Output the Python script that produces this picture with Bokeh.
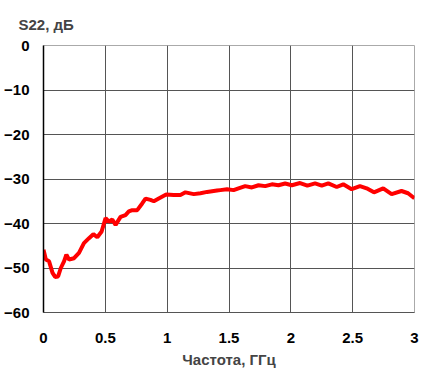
from bokeh.plotting import figure
from bokeh.models import FixedTicker, Range1d
from bokeh.embed import file_html
from bokeh.resources import INLINE

freq = [0.000, 0.019, 0.045, 0.073, 0.094, 0.118, 0.140, 0.166, 0.185, 0.206,
        0.247, 0.287, 0.327, 0.368, 0.403, 0.435, 0.470, 0.502, 0.529, 0.556,
        0.583, 0.623, 0.663, 0.690, 0.718, 0.758, 0.798, 0.825, 0.865, 0.892,
        0.932, 0.992, 1.053, 1.107, 1.148, 1.215, 1.269, 1.323, 1.403, 1.430,
        1.484, 1.537, 1.577, 1.631, 1.685, 1.739, 1.793, 1.847, 1.900, 1.954,
        2.008, 2.075, 2.134, 2.196, 2.250, 2.303, 2.371, 2.424, 2.492, 2.559,
        2.613, 2.672, 2.747, 2.815, 2.895, 2.948, 2.989, 3.000]
s22 = [-45.9, -48.1, -48.5, -51.1, -52.0, -51.9, -50.0, -48.5, -47.0, -48.1,
       -47.8, -46.6, -44.4, -43.3, -42.4, -43.1, -41.8, -38.8, -39.6, -39.1,
       -40.3, -38.5, -38.1, -37.3, -37.0, -37.0, -35.5, -34.4, -34.7, -35.0,
       -34.4, -33.5, -33.6, -33.6, -33.0, -33.4, -33.2, -32.9, -32.6, -32.5,
       -32.3, -32.5, -32.1, -31.6, -31.9, -31.4, -31.6, -31.2, -31.4, -31.0,
       -31.4, -30.9, -31.5, -31.0, -31.5, -31.0, -31.8, -31.2, -32.3, -31.6,
       -32.1, -33.0, -32.1, -33.4, -32.7, -33.2, -34.1, -34.3]

x_ticks = [0, 0.5, 1, 1.5, 2, 2.5, 3]
x_labels = {0: "0", 0.5: "0.5", 1: "1", 1.5: "1.5", 2: "2", 2.5: "2.5", 3: "3"}
y_ticks = [-60, -50, -40, -30, -20, -10, 0]

FONT = "Liberation Sans"

p = figure(width=439, height=372, output_backend="svg", toolbar_location=None,
           x_range=Range1d(0, 3), y_range=Range1d(-60, 0),
           min_border_left=43, min_border_right=25, min_border_top=43,
           min_border_bottom=60, title="S22, дБ")

p.title.text_font = FONT
p.title.text_font_size = "15px"
p.title.text_font_style = "bold"
p.title.align = "left"
p.title.offset = -25
p.title.standoff = 26

p.line(freq, s22, line_color="#ff0000", line_width=4)

p.outline_line_color = "#aaaaaa"
p.outline_line_width = 1
p.background_fill_color = "white"
p.border_fill_color = "white"

p.xaxis.ticker = FixedTicker(ticks=x_ticks)
p.xaxis.major_label_overrides = x_labels
p.yaxis.ticker = FixedTicker(ticks=y_ticks)

for ax in (p.xaxis, p.yaxis):
    ax.major_tick_out = 0
    ax.major_tick_in = 0
    ax.minor_tick_out = 0
    ax.minor_tick_in = 0
    ax.major_label_text_font = FONT
    ax.major_label_text_font_size = "15px"
    ax.major_label_text_font_style = "bold"
    ax.major_label_text_color = "black"

p.yaxis.axis_line_color = "black"
p.yaxis.axis_line_width = 1.5
p.yaxis.major_label_standoff = 14
p.xaxis.axis_line_color = "#555555"
p.xaxis.major_label_standoff = 20

p.xaxis.axis_label = "Частота, ГГц"
p.xaxis.axis_label_text_font = FONT
p.xaxis.axis_label_text_font_size = "15px"
p.xaxis.axis_label_text_font_style = "bold"
p.xaxis.axis_label_standoff = 5

p.xgrid.ticker = FixedTicker(ticks=[0.5, 1, 1.5, 2, 2.5, 3])
p.ygrid.ticker = FixedTicker(ticks=[-60, -50, -40, -30, -20, -10])
p.grid.grid_line_color = "#555555"
p.grid.grid_line_width = 1

open("out.html", "w").write(file_html(p, INLINE))
